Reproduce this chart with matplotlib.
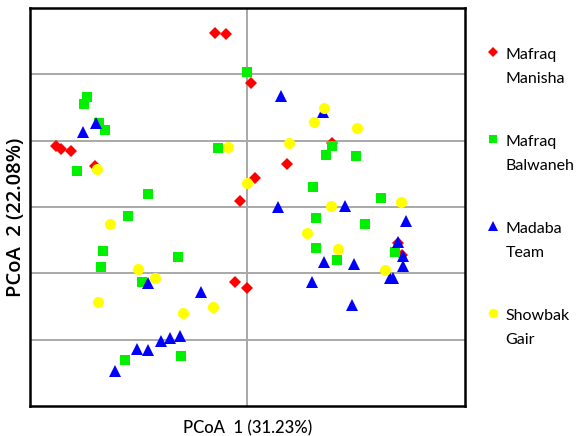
import matplotlib
matplotlib.use("Agg")
import matplotlib.pyplot as plt

# PCoA scores
groups = ["Mafraq\nManisha", "Mafraq\nBalwaneh", "Madaba\nTeam", "Showbak\nGair"]

manisha_x = [-0.075, -0.049, 0.008, -0.440, -0.429, -0.406, -0.350, 0.091, 0.017,
             0.194, -0.017, -0.029, -0.001, 0.346, 0.355]
manisha_y = [0.262, 0.261, 0.187, 0.092, 0.087, 0.084, 0.062, 0.065, 0.044,
             0.096, 0.009, -0.113, -0.122, -0.054, -0.072]

balwaneh_x = [-0.001, -0.369, -0.376, -0.341, -0.328, -0.068, -0.392, -0.229, 0.180,
              0.194, 0.249, 0.151, 0.307, -0.275, -0.332, -0.337, -0.160, -0.243,
              -0.282, -0.153, 0.157, 0.157, 0.206, 0.270, 0.339]
balwaneh_y = [0.204, 0.166, 0.155, 0.127, 0.116, 0.089, 0.054, 0.020, 0.078,
              0.092, 0.077, 0.030, 0.014, -0.014, -0.066, -0.090, -0.075, -0.113,
              -0.231, -0.225, -0.017, -0.062, -0.080, -0.026, -0.068]

madaba_x = [-0.378, -0.348, 0.077, 0.174, 0.070, 0.224, 0.364, 0.346, 0.357, 0.357,
            0.176, 0.245, 0.148, 0.328, 0.334, 0.240, -0.229, -0.107, -0.254,
            -0.229, -0.199, -0.178, -0.155, -0.305]
madaba_y = [0.113, 0.127, 0.167, 0.143, 0.000, 0.002, -0.021, -0.053, -0.074, -0.089,
            -0.083, -0.086, -0.113, -0.107, -0.107, -0.148, -0.115, -0.128, -0.214,
            -0.216, -0.202, -0.197, -0.194, -0.247]

showbak_x = [-0.346, -0.045, -0.001, 0.176, 0.153, 0.252, 0.095, 0.192, 0.353,
             0.137, 0.208, 0.316, -0.316, -0.252, -0.213, -0.344, -0.148, -0.079]
showbak_y = [0.057, 0.090, 0.036, 0.149, 0.128, 0.119, 0.096, 0.002, 0.008,
             -0.039, -0.063, -0.095, -0.026, -0.093, -0.107, -0.143, -0.160, -0.151]

xs = [manisha_x, balwaneh_x, madaba_x, showbak_x]
ys = [manisha_y, balwaneh_y, madaba_y, showbak_y]
colors = ["#ff0000", "#00f000", "#0000ff", "#ffff00"]
markers = ["D", "s", "^", "o"]
msizes = [6.0, 7.5, 8.5, 8.0]

fig = plt.figure(figsize=(5.78, 4.36), dpi=100)
ax = fig.add_axes([0.0519, 0.0688, 0.7526, 0.9128])

for i in range(4):
    ax.plot(xs[i], ys[i], linestyle="none", marker=markers[i], color=colors[i],
            markersize=msizes[i], markeredgewidth=0, zorder=3 + i)

ax.set_xlim(-0.5, 0.5)
ax.set_ylim(-0.3, 0.3)
for yv in [-0.2, -0.1, 0.0, 0.1, 0.2]:
    ax.axhline(yv, color="#a8a8a8", linewidth=1.4, zorder=1)
ax.axvline(0.0, color="#a8a8a8", linewidth=1.4, zorder=1)
ax.set_xticks([])
ax.set_yticks([])
for sp in ax.spines.values():
    sp.set_linewidth(1.8)
    sp.set_color("black")

ax.set_xlabel("PCoA  1 (31.23%)", fontsize=12, family="Lato",
              fontweight="medium", labelpad=10)
ax.set_ylabel("PCoA  2 (22.08%)", fontsize=14.5, family="Open Sans",
              fontweight="semibold")
ax.yaxis.set_label_coords(-0.01, 0.475)

# legend on the right
lax = fig.add_axes([0.805, 0.0, 0.195, 1.0])
lax.set_xlim(0, 1)
lax.set_ylim(0, 436)
lax.axis("off")
for i in range(4):
    ytop = 436 - (52 + i * 87)
    lax.plot([0.25], [ytop], linestyle="none", marker=markers[i], color=colors[i],
             markersize=msizes[i] * 0.85, markeredgewidth=0)
    lax.text(0.355, ytop + 4, groups[i], fontsize=11.5, family="Lato",
             va="top", ha="left", linespacing=1.95)

fig.savefig("out.png", dpi=100, facecolor="white")
